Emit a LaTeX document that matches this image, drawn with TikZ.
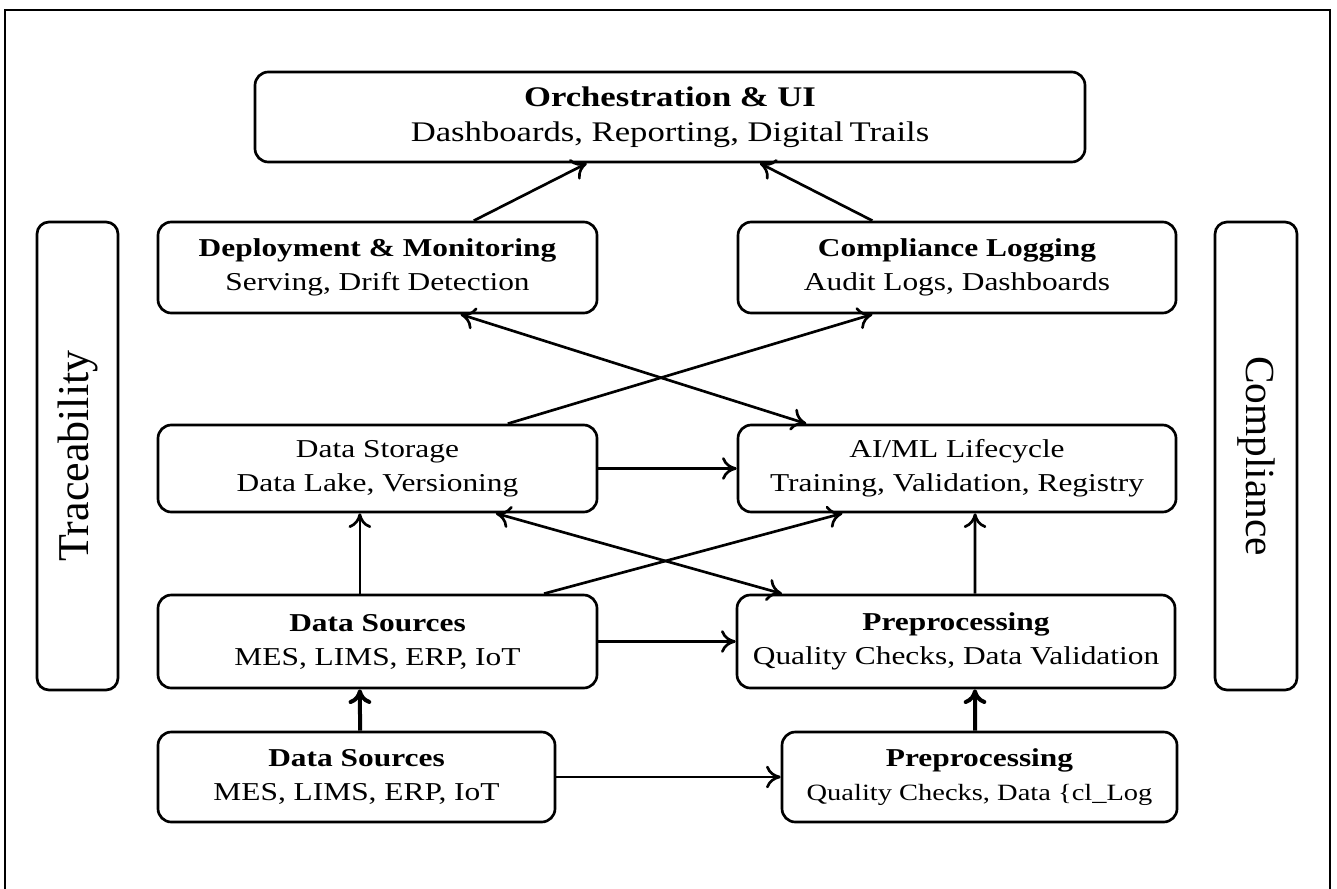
\documentclass[tikz,border=0pt]{standalone}
\usepackage{fontspec}
\usepackage{graphicx}
\setmainfont{Liberation Serif}
\usetikzlibrary{arrows.meta,calc}

% slightly widened lettering used inside the boxes
\newcommand\wide[1]{\scalebox{1.22}[1]{#1}}

\tikzset{
  box/.style={draw, line width=2pt, rounded corners=10pt, inner sep=0pt,
              align=center, font=\fontsize{19.3}{25.5}\selectfont},
  sidebox/.style={draw, line width=2pt, rounded corners=9pt, inner sep=0pt},
  flow/.style={line width=2pt, ->},
  heavyflow/.style={line width=3pt, ->},
  >={Computer Modern Rightarrow[length=11pt,width=17pt]},
}

\begin{document}
\begin{tikzpicture}[x=0.75pt,y=-0.75pt]
\useasboundingbox (0,0) rectangle (1337,888);
\clip (0,0) rectangle (1337,888);

% outer frame (runs past the lower edge)
\draw[line width=1.4pt] (5,10) rectangle (1330,930);

% top layer
\node[box, minimum width=622.5pt, minimum height=67.5pt,
      font=\fontsize{21.3}{26.5}\selectfont] (orch) at (670,117)
  {\wide{\textbf{Orchestration \& UI}}\\ \wide{Dashboards, Reporting, Digital\,Trails}};

% second layer
\node[box, minimum width=329.25pt, minimum height=68.25pt] (deploy) at (377.5,267.5)
  {\wide{\textbf{Deployment \& Monitoring}}\\ \wide{Serving, Drift Detection}};
\node[box, minimum width=328.5pt, minimum height=68.25pt] (complog) at (957,267.5)
  {\wide{\textbf{Compliance Logging}}\\ \wide{Audit Logs, Dashboards}};

% third layer
\node[box, minimum width=329.25pt, minimum height=65.25pt] (dstore) at (377.5,468.5)
  {\wide{Data Storage}\\ \wide{Data Lake, Versioning}};
\node[box, minimum width=328.5pt, minimum height=65.25pt] (aiml) at (957,468.5)
  {\wide{AI/ML Lifecycle}\\ \wide{Training, Validation, Registry}};

% fourth layer
\node[box, minimum width=329.25pt, minimum height=69.75pt] (dsrc1) at (377.5,641.5)
  {\wide{\textbf{Data Sources}}\\ \wide{MES, LIMS, ERP, IoT}};
\node[box, minimum width=328.5pt, minimum height=69.75pt] (prep1) at (956,641.5)
  {\wide{\textbf{Preprocessing}}\\ \wide{Quality Checks, Data Validation}};

% bottom layer
\node[box, minimum width=297.75pt, minimum height=67.5pt] (dsrc0) at (356.5,777)
  {\wide{\textbf{Data Sources}}\\ \wide{MES, LIMS, ERP, IoT}};
\node[box, minimum width=296.25pt, minimum height=67.5pt] (prep0) at (979.5,777)
  {\wide{\textbf{Preprocessing}}\\ {\fontsize{17.5}{25.5}\selectfont\wide{Quality Checks, Data \{cl\_Log}}};

% side bars
\node[sidebox, rotate=90, minimum width=351pt, minimum height=60.75pt,
      font=\fontsize{33}{33}\selectfont] (trace) at (77.5,456) {Traceability};
\node[sidebox, rotate=-90, minimum width=351pt, minimum height=61.5pt,
      font=\fontsize{31}{31}\selectfont] (compl) at (1256,456) {Compliance};

% connectors up to the top layer
\draw[flow] ($(deploy.north west)!0.718!(deploy.north east)$) -- ($(orch.south west)!0.40!(orch.south east)$);
\draw[flow] ($(complog.north west)!0.308!(complog.north east)$) -- ($(orch.south west)!0.608!(orch.south east)$);

% crossing connectors between layers two and three
\draw[flow] ($(dstore.north west)!0.795!(dstore.north east)$) -- ($(complog.south west)!0.308!(complog.south east)$);
\draw[flow, <->] ($(aiml.north west)!0.158!(aiml.north east)$) -- ($(deploy.south west)!0.688!(deploy.south east)$);

% storage to lifecycle
\draw[flow] (dstore.east) -- (aiml.west);

% connectors between layers three and four
\draw[flow] ($(dsrc1.north west)!0.46!(dsrc1.north east)$) -- ($(dstore.south west)!0.46!(dstore.south east)$);
\draw[flow] ($(prep1.north west)!0.543!(prep1.north east)$) -- ($(aiml.south west)!0.541!(aiml.south east)$);
\draw[flow] ($(dsrc1.north west)!0.877!(dsrc1.north east)$) -- ($(aiml.south west)!0.24!(aiml.south east)$);
\draw[flow, <->] ($(prep1.north west)!0.105!(prep1.north east)$) -- ($(dstore.south west)!0.768!(dstore.south east)$);

% sources to preprocessing
\draw[flow] (dsrc1.east) -- (prep1.west);
\draw[flow] (dsrc0.east) -- (prep0.west);

% bottom layer upwards
\draw[heavyflow] ($(dsrc0.north west)!0.509!(dsrc0.north east)$) -- ($(dsrc1.south west)!0.46!(dsrc1.south east)$);
\draw[heavyflow] ($(prep0.north west)!0.489!(prep0.north east)$) -- ($(prep1.south west)!0.543!(prep1.south east)$);
\end{tikzpicture}
\end{document}
